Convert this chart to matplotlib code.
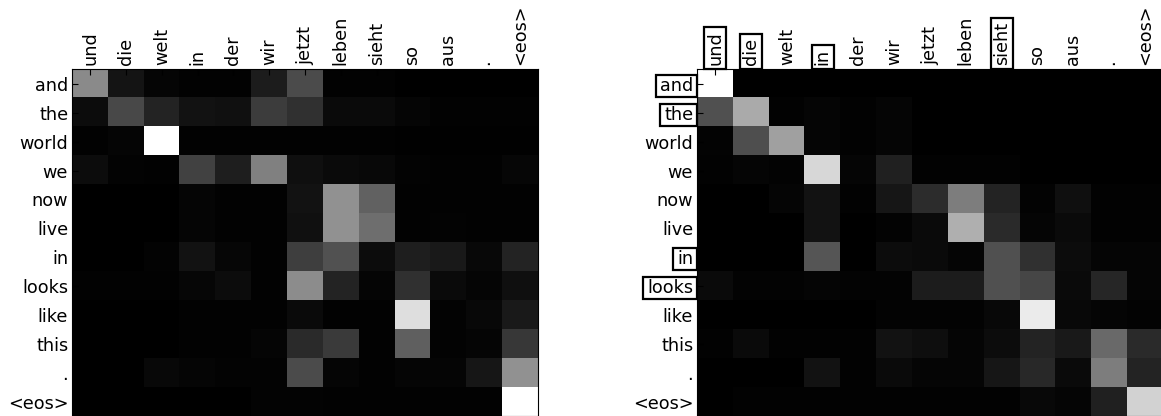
import numpy as np
import matplotlib
matplotlib.use("Agg")
import matplotlib.pyplot as plt
from matplotlib.patches import Rectangle

src = ["und", "die", "welt", "in", "der", "wir", "jetzt", "leben", "sieht", "so", "aus", ".", "<eos>"]
tgt = ["and", "the", "world", "we", "now", "live", "in", "looks", "like", "this", ".", "<eos>"]

# attention weights (grey level / 255)
att_left = np.array([
    [138, 20, 5, 2, 2, 28, 75, 2, 2, 0, 0, 0, 0],
    [12, 72, 35, 18, 16, 60, 48, 10, 10, 5, 2, 2, 2],
    [2, 5, 255, 2, 2, 2, 2, 2, 2, 1, 1, 1, 1],
    [12, 3, 2, 65, 30, 128, 15, 10, 8, 3, 2, 2, 6],
    [0, 0, 0, 5, 2, 2, 18, 145, 98, 2, 2, 2, 2],
    [0, 0, 0, 5, 2, 2, 16, 145, 110, 2, 3, 2, 2],
    [0, 0, 3, 18, 6, 2, 62, 82, 12, 30, 25, 8, 35],
    [2, 2, 2, 6, 12, 2, 140, 35, 5, 48, 10, 5, 15],
    [0, 0, 0, 2, 2, 2, 10, 2, 2, 222, 3, 8, 25],
    [0, 0, 0, 2, 2, 5, 42, 58, 2, 95, 3, 5, 55],
    [0, 0, 8, 5, 3, 3, 75, 5, 2, 5, 5, 22, 145],
    [0, 0, 0, 0, 0, 3, 3, 2, 2, 2, 2, 2, 255],
]) / 255.0

att_right = np.array([
    [255, 0, 0, 0, 0, 0, 0, 0, 0, 0, 0, 0, 0],
    [80, 170, 2, 5, 2, 5, 0, 0, 0, 0, 0, 0, 0],
    [3, 78, 160, 5, 2, 5, 0, 0, 0, 0, 0, 0, 0],
    [2, 5, 3, 215, 5, 32, 2, 2, 2, 0, 0, 0, 0],
    [0, 0, 5, 18, 2, 22, 45, 125, 35, 3, 15, 2, 2],
    [0, 0, 0, 18, 0, 3, 10, 175, 42, 5, 10, 2, 2],
    [0, 0, 0, 85, 0, 12, 10, 5, 80, 48, 12, 5, 5],
    [10, 3, 3, 5, 3, 3, 28, 28, 80, 70, 10, 38, 5],
    [0, 0, 0, 0, 0, 3, 3, 3, 8, 235, 8, 5, 3],
    [2, 10, 2, 2, 2, 18, 14, 5, 12, 35, 25, 105, 42],
    [0, 0, 0, 18, 2, 10, 5, 5, 22, 40, 10, 125, 35],
    [0, 2, 2, 2, 2, 2, 2, 2, 2, 8, 5, 32, 210],
]) / 255.0

boxed_src = [0, 1, 3, 8]   # und, die, in, sieht
boxed_tgt = [0, 1, 6, 7]   # and, the, in, looks

fig = plt.figure(figsize=(11.61, 4.16), dpi=100)
ax1 = fig.add_axes([72.3 / 1161, -0.001, 465.4 / 1161, 0.8344])
ax2 = fig.add_axes([697.3 / 1161, -0.001, 465.4 / 1161, 0.8344])

for ax, att in [(ax1, att_left), (ax2, att_right)]:
    ax.imshow(att, cmap="gray", vmin=0, vmax=1, interpolation="nearest", aspect="auto")
    ax.set_xticks(range(len(src)))
    ax.set_yticks(range(len(tgt)))
    ax.set_xticklabels(src, rotation=90, fontsize=12.7)
    ax.set_yticklabels(tgt, fontsize=12.7)
    ax.tick_params(axis="x", top=True, bottom=False, labeltop=True, labelbottom=False,
                   direction="in", length=4, pad=3)
    ax.tick_params(axis="y", left=True, right=False, direction="in", length=4, pad=3)

# boxes round the highlighted words of the right panel
fig.canvas.draw()
r = fig.canvas.get_renderer()
along, across = 4.0, 2.0
for i in boxed_src:
    bb = ax2.get_xticklabels()[i].get_window_extent(r)
    fig.patches.append(Rectangle((bb.x0 - across, bb.y0 - along), bb.width + 2 * across,
                                 bb.height + 2 * along, fill=False, edgecolor="black",
                                 linewidth=1.6, transform=None, figure=fig))
for i in boxed_tgt:
    bb = ax2.get_yticklabels()[i].get_window_extent(r)
    fig.patches.append(Rectangle((bb.x0 - along, bb.y0 - across), bb.width + 2 * along,
                                 bb.height + 2 * across, fill=False, edgecolor="black",
                                 linewidth=1.6, transform=None, figure=fig))

fig.savefig("out.png", dpi=100)
